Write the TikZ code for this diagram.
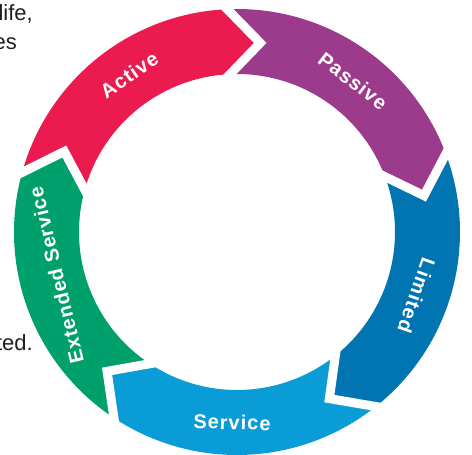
\documentclass[tikz,border=0pt]{standalone}
\usepackage{fontspec}
\setmainfont{Liberation Sans}
\newfontfamily\lblfont[LetterSpace=5]{Liberation Sans}
\usetikzlibrary{calc}
\definecolor{cActive}{HTML}{EC1B4F}
\definecolor{cPassive}{HTML}{9C3A8B}
\definecolor{cLimited}{HTML}{0075B2}
\definecolor{cService}{HTML}{0A9CD7}
\definecolor{cExt}{HTML}{00A06D}
\definecolor{txt}{HTML}{231F20}
\tikzset{
  lbl/.style={text=white, inner sep=0pt, font=\lblfont\bfseries\fontsize{20}{24}\selectfont},
  para/.style={text=txt, inner sep=0pt, anchor=base east, font=\fontsize{22}{29}\selectfont},
  gapline/.style={white, line width=9pt, line join=miter, miter limit=10}
}
\begin{document}
\begin{tikzpicture}[x=1pt,y=1pt]
\fill[white] (0,0) rectangle (472,-455);
\useasboundingbox (0,0) rectangle (472,-455);
% fragments of surrounding paragraph
\node[para] (p1) at (33,-20) {life,};
\node[para] (p2) at (17,-49) {es};
\node[para] (p3) at (33,-350) {ted.};
\def\Ro{223}\def\Ri{158}\def\Rm{190.5}\def\dl{9.5}
\begin{scope}[shift={(237,-232)}]
\foreach \t/\c in {164.5/cActive, 92.5/cPassive, 20.5/cLimited, -51.5/cService, -123.5/cExt}{
  \pgfmathsetmacro\h{\t-72}
  \pgfmathsetmacro\ht{\t-72-\dl}
  \pgfmathsetmacro\tt{\t-\dl}
  \fill[\c] (\t:\Ro) arc[start angle=\t, end angle=\h, radius=\Ro]
     -- (\ht:\Rm) -- (\h:\Ri) arc[start angle=\h, end angle=\t, radius=\Ri]
     -- (\tt:\Rm) -- cycle;
}
\foreach \t/\n in {164.5/a, 92.5/b, 20.5/c, -51.5/d, -123.5/e}{
  \pgfmathsetmacro\tt{\t-\dl}
  \coordinate (O\n) at (\t:\Ro);
  \coordinate (T\n) at (\tt:\Rm);
  \coordinate (I\n) at (\t:\Ri);
  \draw[gapline] ($(T\n)!1.4!(O\n)$) -- (T\n) -- ($(T\n)!1.4!(I\n)$);
}
\node[lbl, rotate=34.5] (active) at (124.5:\Rm) {Active};
\node[lbl, rotate=-37.5] (passive) at (52.5:\Rm) {Passive};
\node[lbl, rotate=-109.5] (limited) at (-19.5:\Rm) {Limited};
\node[lbl, rotate=-1.5] (service) at (-91.5:\Rm) {Service};
\node[lbl, rotate=103.5] (extended) at (193.5:186) {Extended Service};
\end{scope}
\end{tikzpicture}
\end{document}
